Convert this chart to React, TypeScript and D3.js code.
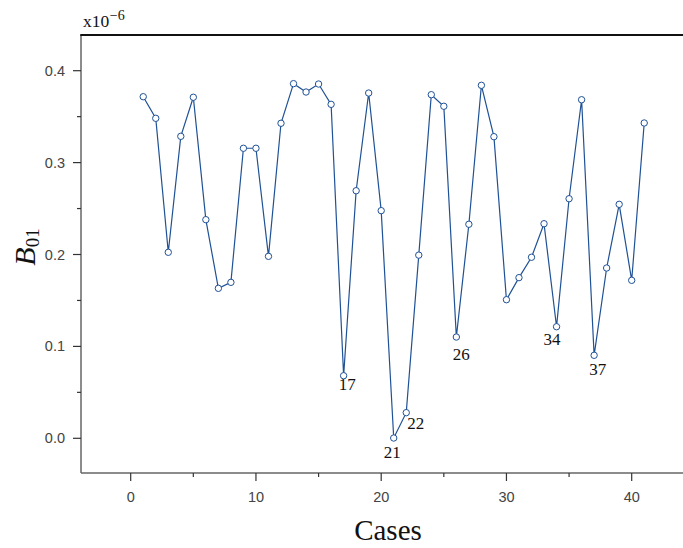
import React from "react";
import * as d3 from "d3";

// Cases 1..41, B01 values in units of 1e-6
const cases: number[] = d3.range(1, 42);
const b01: number[] = [
  0.3717, 0.3482, 0.2024, 0.3286, 0.3711, 0.2379, 0.1632, 0.1697, 0.3156, 0.3156,
  0.198, 0.3428, 0.3859, 0.3768, 0.3855, 0.3634, 0.0681, 0.2694, 0.3757, 0.2477,
  0.0003, 0.0279, 0.1993, 0.3739, 0.3613, 0.1102, 0.2329, 0.3841, 0.3282, 0.1508,
  0.1748, 0.197, 0.2335, 0.1214, 0.2607, 0.3684, 0.0903, 0.1853, 0.2546, 0.1719,
  0.3431,
];
const labeledCases: number[] = [17, 21, 22, 26, 34, 37];
const labelDx: number[] = [3.5, -1.5, 9.5, 5, -4.5, 3.5];
const labelDy: number[] = [14.5, 20, 16, 23, 18.5, 19.5];
const xTicks: number[] = [0, 10, 20, 30, 40];
const xMinorTicks: number[] = [5, 15, 25, 35];
const yTicks: number[] = [0, 0.1, 0.2, 0.3, 0.4];
const yMinorTicks: number[] = [0.05, 0.15, 0.25, 0.35];

const W = 683;
const H = 548;
const left = 81;
const top = 35;
const bottom = 473;
const right = 683;

export default function App() {
  const x = d3.scaleLinear().domain([0, 40]).range([130.7, 631.7]);
  const y = d3.scaleLinear().domain([0, 0.4]).range([438.3, 70.7]);
  const pts = cases.map((c, i) => [x(c), y(b01[i])] as [number, number]);
  const line = d3.line()(pts) || "";
  const lineColor = "#1f5195";
  const axisColor = "#666";
  const tickFont = "'Liberation Sans', Arial, sans-serif";
  const serif = "'Liberation Serif', 'Times New Roman', serif";

  return (
    <svg
      width={W}
      height={H}
      style={{ position: "absolute", left: 0, top: 0, background: "#fff" }}
    >
      <rect x={0} y={0} width={W} height={H} fill="#fff" />
      {/* axes */}
      <line x1={left} y1={top} x2={left} y2={bottom} stroke={axisColor} strokeWidth={1.5} />
      <line x1={left} y1={bottom} x2={right} y2={bottom} stroke={axisColor} strokeWidth={1.5} />
      <line x1={left - 0.75} y1={top} x2={right} y2={top} stroke="#111" strokeWidth={2} />

      {/* y ticks */}
      {yTicks.map((t) => (
        <g key={"yt" + t}>
          <line x1={left - 8} x2={left} y1={y(t)} y2={y(t)} stroke="#333" strokeWidth={1.2} />
          <text
            x={65}
            y={y(t) + 5}
            textAnchor="end"
            fontFamily={tickFont}
            fontSize={14.5}
            fill="#444"
          >
            {t.toFixed(1)}
          </text>
        </g>
      ))}
      {yMinorTicks.map((t) => (
        <line key={"ym" + t} x1={left - 4} x2={left} y1={y(t)} y2={y(t)} stroke="#333" strokeWidth={1.2} />
      ))}

      {/* x ticks */}
      {xTicks.map((t) => (
        <g key={"xt" + t}>
          <line x1={x(t)} x2={x(t)} y1={bottom} y2={bottom + 8} stroke="#333" strokeWidth={1.2} />
          <text
            x={x(t)}
            y={502}
            textAnchor="middle"
            fontFamily={tickFont}
            fontSize={14.5}
            fill="#444"
          >
            {t}
          </text>
        </g>
      ))}
      {xMinorTicks.map((t) => (
        <line key={"xm" + t} x1={x(t)} x2={x(t)} y1={bottom} y2={bottom + 4} stroke="#333" strokeWidth={1.2} />
      ))}

      {/* data */}
      <path d={line} fill="none" stroke={lineColor} strokeWidth={1.2} />
      {pts.map((p, i) => (
        <circle key={"p" + i} cx={p[0]} cy={p[1]} r={3.2} fill="#fff" stroke={lineColor} strokeWidth={1} />
      ))}
      {labeledCases.map((c, k) => (
        <text
          key={"lab" + c}
          x={x(c) + labelDx[k]}
          y={y(b01[c - 1]) + labelDy[k]}
          textAnchor="middle"
          fontFamily={serif}
          fontSize={17}
          fill="#111"
        >
          {c}
        </text>
      ))}

      {/* exponent */}
      <text x={83} y={27} fontFamily={serif} fontSize={17.5} fill="#111">
        x10
        <tspan dx={0.5} dy={-7} fontSize={14}>−6</tspan>
      </text>

      {/* axis labels */}
      <text x={388} y={540} textAnchor="middle" fontFamily={serif} fontSize={29} fill="#111">
        Cases
      </text>
      <text
        transform="translate(35,247) rotate(-90)"
        textAnchor="middle"
        fontFamily={serif}
        fill="#111"
      >
        <tspan fontSize={30} fontStyle="italic">B</tspan>
        <tspan fontSize={19} dy={4}>01</tspan>
      </text>
    </svg>
  );
}
